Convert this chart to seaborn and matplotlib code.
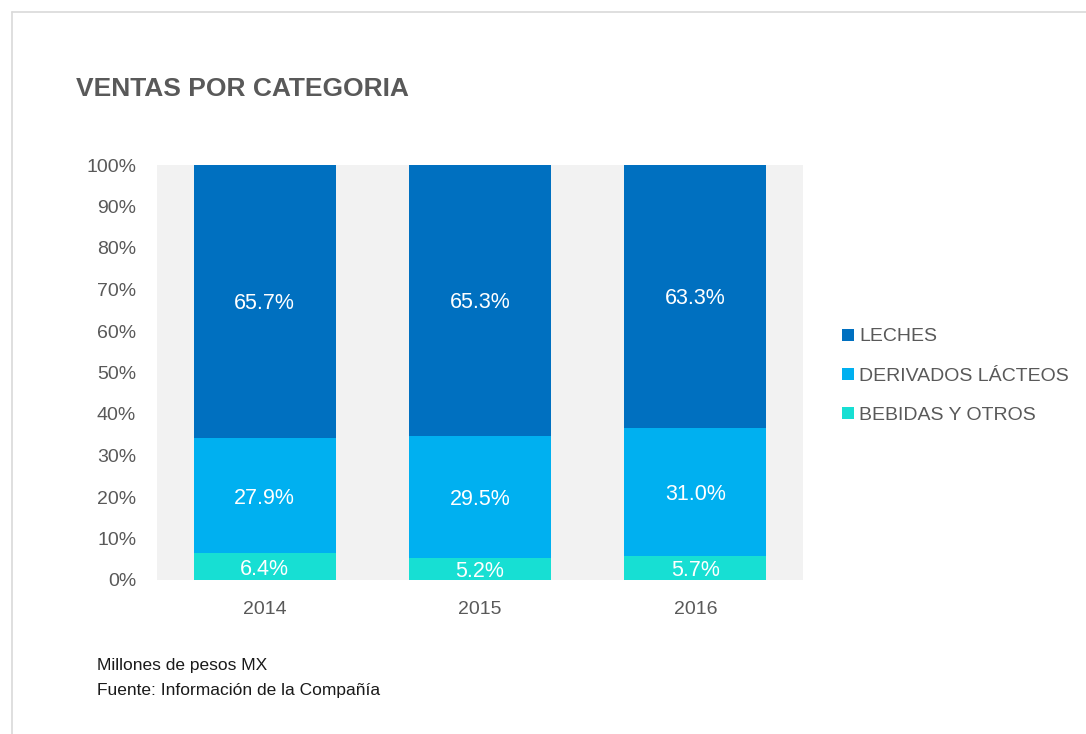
import matplotlib
matplotlib.use("Agg")
import matplotlib.pyplot as plt
from matplotlib.lines import Line2D
import seaborn as sns
import pandas as pd
import numpy as np

years = ["2014", "2015", "2016"]
leches = [65.7, 65.3, 63.3]
derivados = [27.9, 29.5, 31.0]
bebidas = [6.4, 5.2, 5.7]
series_names = ["LECHES", "DERIVADOS LÁCTEOS", "BEBIDAS Y OTROS"]
colors = ["#0070C0", "#00B0F0", "#17DFD3"]
yticks = list(range(0, 101, 10))

sns.set_theme(style="white")
plt.rcParams["font.family"] = ["Liberation Sans", "DejaVu Sans"]

TXT = "#595959"

fig = plt.figure(figsize=(10.86, 7.34), dpi=100)
ax = fig.add_axes([157/1086, 1-580/734, (803-157)/1086, (580-165)/734])
ax.set_facecolor("#F2F2F2")

df = pd.DataFrame({"year": years, "leches": leches, "derivados": derivados, "bebidas": bebidas})
df["top"] = df["leches"] + df["derivados"] + df["bebidas"]
df["mid"] = df["derivados"] + df["bebidas"]

sns.barplot(data=df, x="year", y="top", color=colors[0], saturation=1, width=0.66, ax=ax, linewidth=0)
sns.barplot(data=df, x="year", y="mid", color=colors[1], saturation=1, width=0.66, ax=ax, linewidth=0)
sns.barplot(data=df, x="year", y="bebidas", color=colors[2], saturation=1, width=0.66, ax=ax, linewidth=0)

for i in range(len(years)):
    b = bebidas[i]; d = derivados[i]; l = leches[i]
    kw = dict(ha="center", va="center_baseline", color="white", fontsize=15.5)
    ax.text(i, b/2, f"{b:.1f}%", **kw)
    ax.text(i, b + d/2, f"{d:.1f}%", **kw)
    ax.text(i, b + d + l/2, f"{l:.1f}%", **kw)

ax.set_xlim(-0.5, 2.5)
ax.set_ylim(0, 100)
ax.set_yticks(yticks)
ax.set_yticklabels([f"{t}%" for t in yticks])
ax.tick_params(axis="y", length=0, pad=15, labelsize=14, labelcolor=TXT)
ax.tick_params(axis="x", length=0, pad=15, labelsize=14, labelcolor=TXT)
ax.set_xlabel("")
ax.set_ylabel("")
for s in ax.spines.values():
    s.set_visible(False)

handles = [Line2D([0], [0], marker="s", linestyle="none", markersize=9,
                  markerfacecolor=c, markeredgewidth=0) for c in colors]
leg = fig.legend(handles, series_names, loc="upper left",
                 bbox_to_anchor=(833/1086, 1-320/734), frameon=False,
                 fontsize=14, labelcolor=TXT, handlelength=0.7,
                 handletextpad=0.25, labelspacing=1.12, borderaxespad=0)

fig.text(76/1086, 1-96/734, "VENTAS POR CATEGORIA", fontsize=19, fontweight="bold",
         color=TXT, va="baseline", ha="left")
fig.text(97/1086, 1-670/734, "Millones de pesos MX", fontsize=12.5, color="#1A1A1A",
         va="baseline", ha="left")
fig.text(97/1086, 1-695/734, "Fuente: Información de la Compañía", fontsize=12.5,
         color="#1A1A1A", va="baseline", ha="left")

fig.add_artist(Line2D([12/1086, 1], [1-12/734, 1-12/734], color="#D9D9D9", lw=1.2))
fig.add_artist(Line2D([12/1086, 12/1086], [0, 1-12/734], color="#D9D9D9", lw=1.2))

fig.savefig("out.png", dpi=100)
